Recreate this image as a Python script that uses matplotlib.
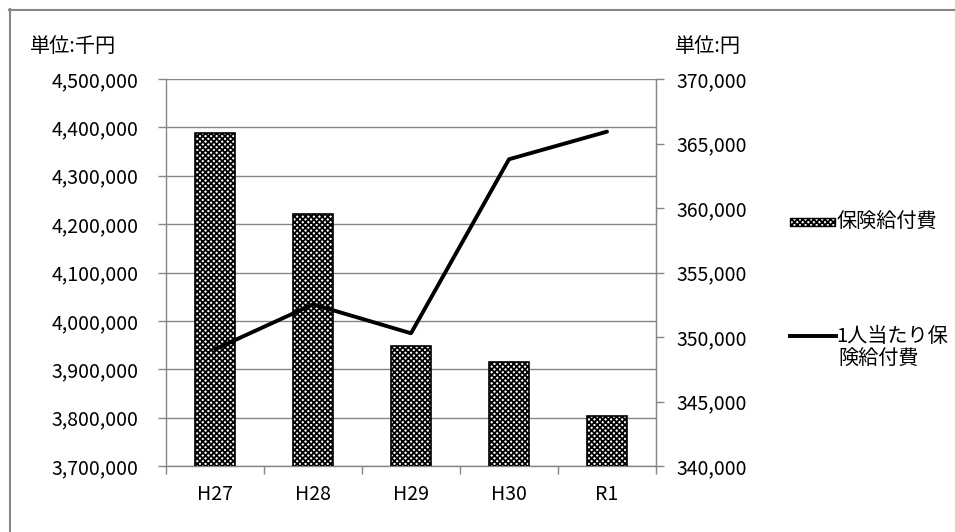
import matplotlib.pyplot as plt
import numpy as np
from matplotlib.lines import Line2D
from matplotlib.patches import Rectangle
from matplotlib.ticker import FuncFormatter

plt.rcParams['font.family'] = ['Noto Sans CJK JP', 'DejaVu Sans']
plt.rcParams['hatch.linewidth'] = 1.3

# data
years = ["H27", "H28", "H29", "H30", "R1"]
benefit_total = [4389000, 4220000, 3948000, 3914000, 3804000]   # 千円
benefit_per_person = [349050, 352530, 350290, 363780, 365920]   # 円

grid_color = "#868686"
fs = 14        # numbers
fs_jp = 14.5   # japanese labels

fig = plt.figure(figsize=(9.55, 5.32), dpi=100)
ax1 = fig.add_axes([166 / 955, 1 - 466 / 532, 490 / 955, 387 / 532])

x = np.arange(len(years))
ax1.bar(x, benefit_total, width=0.4, color="white", edgecolor="black",
        hatch="xxxxxx", linewidth=1.2, zorder=3)
ax1.set_ylim(3700000, 4500000)
ax1.set_xlim(-0.5, len(years) - 0.5)
ax1.set_yticks(np.arange(3700000, 4500001, 100000))
ax1.yaxis.set_major_formatter(FuncFormatter(lambda v, p: f"{v:,.0f}"))
ax1.grid(axis="y", color=grid_color, linewidth=1.0, zorder=0)
ax1.set_axisbelow(True)

# category ticks sit between the bars, labels centred under the bars
ax1.set_xticks(np.arange(-0.5, len(years)), minor=False)
ax1.set_xticklabels([""] * (len(years) + 1))
ax1.set_xticks(x, minor=True)
ax1.set_xticklabels(years, minor=True, fontsize=fs)
ax1.tick_params(axis="x", which="major", length=6, color=grid_color, width=1)
ax1.tick_params(axis="x", which="minor", length=0, pad=13)
ax1.tick_params(axis="y", length=6, color=grid_color, width=1, pad=14, labelsize=fs)

ax1.spines["top"].set_visible(False)
for s in ["left", "bottom", "right"]:
    ax1.spines[s].set_color(grid_color)
    ax1.spines[s].set_linewidth(1.0)

ax2 = ax1.twinx()
ax2.plot(x, benefit_per_person, color="black", linewidth=2.8, zorder=4,
         solid_capstyle="round")
ax2.set_ylim(340000, 370000)
ax2.set_yticks(np.arange(340000, 370001, 5000))
ax2.yaxis.set_major_formatter(FuncFormatter(lambda v, p: f"{v:,.0f}"))
ax2.tick_params(axis="y", length=6, color=grid_color, width=1, pad=9, labelsize=fs)
for s in ["top", "left", "bottom"]:
    ax2.spines[s].set_visible(False)
ax2.spines["right"].set_color(grid_color)

# unit labels
fig.text(30 / 955, 1 - 47 / 532, "単位:千円", fontsize=fs_jp, va="center", ha="left")
fig.text(675 / 955, 1 - 47 / 532, "単位:円", fontsize=fs_jp, va="center", ha="left")

# legend drawn by hand
fig.patches.append(Rectangle((790 / 955, 1 - 226 / 532), 45 / 955, 8 / 532,
                             transform=fig.transFigure, facecolor="white",
                             edgecolor="black", hatch="xxxxxx", linewidth=1.0))
fig.text(837 / 955, 1 - 222 / 532, "保険給付費", fontsize=fs_jp, va="center", ha="left")
fig.lines.append(Line2D([790 / 955, 836 / 955], [1 - 336 / 532, 1 - 336 / 532],
                        transform=fig.transFigure, color="black", linewidth=2.8))
fig.text(836 / 955, 1 - 336 / 532, "1人当たり保", fontsize=fs_jp, va="center", ha="left")
fig.text(838 / 955, 1 - 359 / 532, "険給付費", fontsize=fs_jp, va="center", ha="left")

# outer chart border (top and left edges are visible)
fig.lines.append(Line2D([9 / 955, 1], [1 - 9.5 / 532, 1 - 9.5 / 532],
                        transform=fig.transFigure, color=grid_color, linewidth=1.5))
fig.lines.append(Line2D([9.5 / 955, 9.5 / 955], [0, 1 - 9 / 532],
                        transform=fig.transFigure, color=grid_color, linewidth=1.5))

fig.savefig("out.png", dpi=100)
